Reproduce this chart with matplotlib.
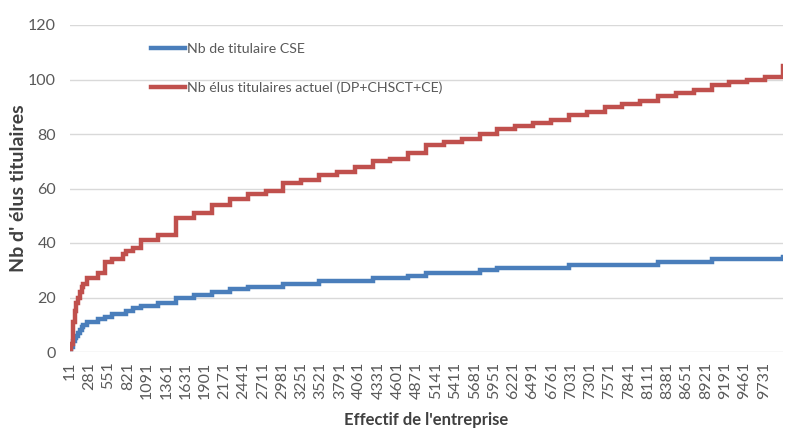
import numpy as np
import matplotlib.pyplot as plt

# seuils d'effectif (debut de chaque palier) et nb de titulaires
cse_seuils = [11, 25, 50, 75, 100, 125, 150, 175, 200, 250, 400, 500, 600, 800, 900,
              1000, 1250, 1500, 1750, 2000, 2250, 2500, 3000, 3500, 4250, 4750, 5000,
              5750, 6000, 7000, 8250, 9000, 10000]
cse_values = [1, 2, 4, 5, 6, 7, 8, 9, 10, 11, 12, 13, 14, 15, 16,
              17, 18, 20, 21, 22, 23, 24, 25, 26, 27, 28, 29,
              30, 31, 32, 33, 34, 35]

act_seuils = [11, 26, 50, 75, 100, 125, 150, 175, 200, 250, 400, 500, 600, 750, 800, 900,
              1000, 1250, 1500, 1750, 2000, 2250, 2500, 2750, 3000, 3250, 3500, 3750,
              4000, 4250, 4500, 4750, 5000, 5250, 5500, 5750, 6000, 6250, 6500, 6750,
              7000, 7250, 7500, 7750, 8000, 8250, 8500, 8750, 9000, 9250, 9500, 9750, 10000]
act_values = [1, 3, 11, 15, 18, 20, 22, 24, 25, 27, 29, 33, 34, 36, 37, 38,
              41, 43, 49, 51, 54, 56, 58, 59, 62, 63, 65, 66,
              68, 70, 71, 73, 76, 77, 78, 80, 82, 83, 84, 85,
              87, 88, 90, 91, 92, 94, 95, 96, 98, 99, 100, 101, 105]

tick_labels = [str(v) for v in range(11, 10000, 270)]

plt.rcParams['font.family'] = ['Lato', 'DejaVu Sans']

fig = plt.figure(figsize=(7.9, 4.3), dpi=100)
ax = fig.add_axes([70 / 790, 78 / 430, 713 / 790, 327 / 430])

ax.step(cse_seuils, cse_values, where='post', color='#4a7ebb', lw=3.2,
        label='Nb de titulaire CSE', solid_joinstyle='miter')
ax.step(act_seuils, act_values, where='post', color='#c0504d', lw=3.2,
        label='Nb élus titulaires actuel (DP+CHSCT+CE)', solid_joinstyle='miter')

ax.set_xlim(11, 10000)
ax.set_ylim(0, 120)
ax.set_yticks(range(0, 121, 20))
ax.set_xticks([int(t) for t in tick_labels])
ax.set_xticklabels(tick_labels, rotation=90)
ax.tick_params(axis='both', length=0, labelsize=11.5, labelcolor='#595959')
ax.tick_params(axis='x', pad=7)
ax.tick_params(axis='y', pad=10)

ax.grid(axis='y', color='#d9d9d9', lw=1)
ax.set_axisbelow(True)
for s in ax.spines.values():
    s.set_visible(False)

ax.set_xlabel("Effectif de l'entreprise", fontsize=12, fontweight='bold', color='#404040',
              labelpad=9)
ax.set_ylabel("Nb d' élus titulaires", fontsize=14, fontweight='bold', color='#404040',
              labelpad=1)

ax.legend(loc='upper left', bbox_to_anchor=(0.096, 0.985), frameon=False, fontsize=10.2,
          handlelength=2.4, handletextpad=0.1, labelspacing=1.9, labelcolor='#595959')

fig.savefig('out.png')
